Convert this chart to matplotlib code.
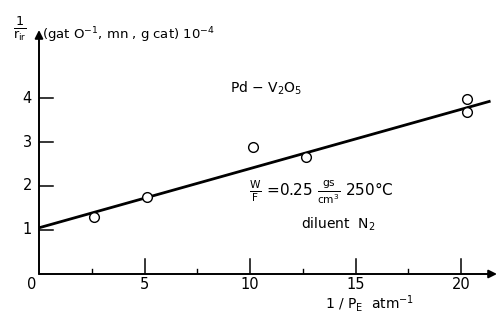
import matplotlib
matplotlib.use("Agg")
import matplotlib.pyplot as plt
import numpy as np

# Data
inv_pe = [2.6, 5.1, 10.15, 12.65, 20.3, 20.3]
inv_r = [1.30, 1.75, 2.89, 2.66, 3.98, 3.68]
fit_x = [0.0, 21.4]
fit_y = [1.05, 3.93]
x_major = [5, 10, 15, 20]
x_minor = [2.5, 7.5, 12.5, 17.5]
y_major = [1, 2, 3, 4]

plt.rcParams['font.family'] = ['DejaVu Sans']
plt.rcParams['mathtext.fontset'] = 'dejavusans'
plt.rcParams['mathtext.default'] = 'regular'

fig = plt.figure(figsize=(4.99, 3.2), dpi=100)
W, H = 499, 320
x0, y0 = 39, 274          # origin pixel
px_x, px_y = 21.1, 44.0   # pixels per unit
xmax = (497 - x0) / px_x
ymax = (y0 - 30) / px_y
ax = fig.add_axes([x0 / W, (H - y0) / H, xmax * px_x / W, ymax * px_y / H])
ax.set_xlim(0, xmax)
ax.set_ylim(0, ymax)
for s in ax.spines.values():
    s.set_visible(False)

# axes with arrows
ax.annotate('', xy=(xmax, 0), xytext=(0, 0), xycoords='data',
            arrowprops=dict(arrowstyle='-|>', color='black', lw=1.4,
                            mutation_scale=12, shrinkA=0, shrinkB=0),
            annotation_clip=False)
ax.annotate('', xy=(0, ymax), xytext=(0, 0), xycoords='data',
            arrowprops=dict(arrowstyle='-|>', color='black', lw=1.4,
                            mutation_scale=12, shrinkA=0, shrinkB=0),
            annotation_clip=False)

ax.set_xticks([])
ax.set_yticks([])

for xv in x_major:
    ax.plot([xv, xv], [0, 15 / px_y], color='black', lw=1.1)
    ax.text(xv, -3 / px_y, str(xv), ha='center', va='top', fontsize=10.5)
for xv in x_minor:
    ax.plot([xv, xv], [0, 5 / px_y], color='black', lw=1.0)
ax.text(-7 / px_x, -3 / px_y, '0', ha='center', va='top', fontsize=10.5)
for yv in y_major:
    ax.plot([0, 14 / px_x], [yv, yv], color='black', lw=1.1)
    ax.text(-7 / px_x, yv, str(yv), ha='right', va='center', fontsize=10.5)

ax.plot(fit_x, fit_y, color='black', lw=2.0, solid_capstyle='butt')
ax.plot(inv_pe, inv_r, 'o', mfc='white', mec='black', mew=1.0, ms=7, zorder=3)

# annotations
fig.text(230 / W, 1 - 88 / H, r'Pd $-$ V$_2$O$_5$', ha='left', va='center', fontsize=10)
fig.text(249 / W, 1 - 192 / H, r'$\frac{W}{F}$ =0.25 $\frac{gs}{cm^3}$ 250°C',
         ha='left', va='center', fontsize=11)
fig.text(301 / W, 1 - 224 / H, r'diluent  N$_2$', ha='left', va='center', fontsize=10)
fig.text(325 / W, 1 - 303 / H, r'1 / P$_E$  atm$^{-1}$', ha='left', va='center', fontsize=10)
fig.text(20 / W, 1 - 29 / H, r'$\frac{1}{r_{ir}}$', ha='center', va='center', fontsize=13)
fig.text(42 / W, 1 - 35 / H, r'(gat O$^{-1}$, mn , g cat) 10$^{-4}$', ha='left', va='center', fontsize=9.5)

fig.savefig('out.png', dpi=100)
